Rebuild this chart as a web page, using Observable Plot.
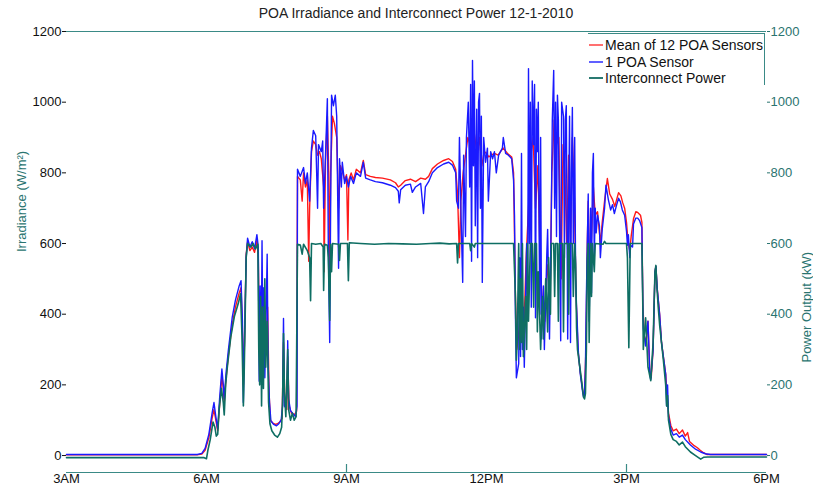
<!DOCTYPE html>
<html>
<head>
<meta charset="utf-8">
<script src="https://cdn.jsdelivr.net/npm/d3@7"></script>
<script src="https://cdn.jsdelivr.net/npm/@observablehq/plot@0.6"></script>
<style>
  body { margin: 0; background: #fff; font-family: "Liberation Sans", Arial, sans-serif; }
  #wrap { position: relative; width: 813px; height: 485px; }
  #title { height: 24px; line-height: 26px; font-size: 14px; color: #222; text-align: center; padding-left: 19px; box-sizing: border-box; }
  #legend { position: absolute; left: 588px; top: 33px; width: 177px; height: 52px; border-top: 1px solid #3a8a86; border-right: 1px solid #3a8a86; box-sizing: border-box; }
  .item { position: absolute; left: 1px; height: 16px; font-size: 14px; line-height: 16px; color: #111; white-space: nowrap; }
  .sw { display: inline-block; width: 14px; height: 0; border-top: 2px solid; vertical-align: middle; margin-right: 2px; position: relative; top: -1px; }
</style>
</head>
<body>
<div id="wrap">
  <div id="title">POA Irradiance and Interconnect Power 12-1-2010</div>
  <div id="chart"></div>
  <div id="legend"></div>
</div>
<script>
// ---- Data (hour of day, value) ----
const seriesNames = ["Mean of 12 POA Sensors", "1 POA Sensor", "Interconnect Power"];
const seriesColors = ["#ff1a1a", "#1a1aff", "#0e6e63"];

const meanPOA = [
[3.00,2],[5.80,2],[5.90,4],[5.97,15],[6.05,50],[6.12,105],[6.16,130],[6.20,100],[6.24,70],[6.28,140],[6.33,225],[6.36,190],[6.38,150],[6.42,220],[6.47,285],[6.55,370],[6.62,420],[6.70,460],[6.74,475],[6.77,360],[6.79,200],[6.81,290],[6.85,570],[6.88,605],[6.93,580],[6.98,590],[7.03,575],[7.08,610],[7.11,560],[7.14,300],[7.17,420],[7.20,260],[7.23,400],[7.27,300],[7.31,420],[7.34,180],[7.37,100],[7.42,92],[7.48,88],[7.52,90],[7.57,95],[7.62,105],[7.65,320],[7.68,150],[7.72,130],[7.74,280],[7.77,140],[7.82,120],[7.88,115],[7.93,125],[7.95,790],
[8.01,780],[8.05,720],[8.08,800],[8.12,760],[8.16,780],[8.19,550],[8.21,700],[8.25,860],[8.29,890],[8.34,880],[8.38,850],[8.42,860],[8.46,840],[8.51,760],[8.52,520],[8.55,830],[8.59,960],[8.62,800],[8.64,520],[8.66,800],[8.70,960],[8.74,940],[8.79,900],[8.83,700],[8.87,820],[8.92,800],[8.96,780],[9.00,795],[9.03,610],[9.05,780],[9.10,800],[9.15,780],[9.21,810],[9.30,800],[9.36,835],[9.41,795],[9.51,790],[9.62,787],[9.77,785],[9.94,780],[10.05,772],[10.11,760],[10.16,765],[10.26,778],[10.37,782],[10.48,775],[10.59,785],[10.69,782],[10.76,790],[10.84,812],[10.95,825],[11.08,835],[11.19,840],[11.27,832],[11.34,810],[11.38,740],[11.42,560],[11.45,720],[11.50,800],[11.55,850],[11.60,900],[11.65,880],[11.70,950],[11.75,900],[11.80,850],[11.85,900],[11.90,820],[11.95,860],[12.00,855],[12.05,845],[12.10,850],[12.17,855],[12.25,850],[12.30,860],[12.36,870],[12.45,855],[12.54,845],[12.58,800],[12.62,450],[12.65,300],[12.68,330],[12.72,400],[12.76,480],[12.80,350],[12.85,560],[12.90,700],[12.95,850],[13.00,900],[13.05,700],[13.10,820],[13.15,550],[13.20,420],[13.25,380],[13.30,540],[13.33,500],[13.36,400],[13.40,800],[13.45,950],[13.50,880],[13.55,900],[13.60,500],[13.64,880],[13.68,800],[13.72,600],[13.76,850],[13.80,600],[13.84,900],[13.88,750],[13.92,450],[13.96,300],[14.01,235],[14.06,185],[14.08,170],[14.10,172],[14.13,300],[14.16,600],[14.18,720],[14.21,500],[14.25,620],[14.29,760],[14.33,680],[14.38,690],[14.44,600],[14.48,660],[14.53,720],[14.59,784],[14.64,740],[14.70,725],[14.75,705],[14.80,730],[14.83,744],[14.88,735],[14.92,715],[14.96,700],[15.00,660],[15.03,610],[15.07,580],[15.10,620],[15.15,670],[15.20,690],[15.24,688],[15.30,680],[15.33,660],[15.35,430],[15.38,340],[15.42,320],[15.46,380],[15.50,235],[15.53,220],[15.57,300],[15.61,520],[15.63,535],[15.66,470],[15.71,400],[15.75,320],[15.79,280],[15.84,230],[15.87,170],[15.90,120],[15.95,85],[16.00,70],[16.07,75],[16.13,62],[16.20,72],[16.26,55],[16.31,65],[16.35,40],[16.45,28],[16.52,22],[16.58,15],[16.65,8],[16.72,3],[18.00,3]
];

const onePOA = [
[3.00,3],[5.80,3],[5.90,6],[5.97,20],[6.05,60],[6.12,120],[6.16,150],[6.20,110],[6.24,75],[6.28,160],[6.33,245],[6.36,200],[6.38,160],[6.42,235],[6.47,300],[6.55,390],[6.62,440],[6.70,480],[6.74,495],[6.77,380],[6.79,150],[6.81,300],[6.85,560],[6.88,615],[6.93,590],[6.98,605],[7.03,585],[7.08,625],[7.11,590],[7.13,210],[7.15,480],[7.17,250],[7.19,608],[7.21,300],[7.23,475],[7.25,220],[7.28,420],[7.30,570],[7.32,260],[7.35,150],[7.38,98],[7.44,88],[7.50,84],[7.55,90],[7.60,100],[7.63,140],[7.65,388],[7.67,140],[7.70,135],[7.73,200],[7.74,325],[7.76,160],[7.80,127],[7.85,119],[7.91,110],[7.94,140],[7.95,810],
[8.01,790],[8.08,815],[8.12,770],[8.16,800],[8.21,720],[8.25,870],[8.29,920],[8.34,905],[8.38,700],[8.40,880],[8.46,860],[8.49,890],[8.51,700],[8.55,850],[8.59,1010],[8.61,600],[8.64,320],[8.66,700],[8.68,1020],[8.72,990],[8.76,1020],[8.79,960],[8.83,530],[8.85,840],[8.89,760],[8.91,830],[8.96,770],[9.00,790],[9.04,760],[9.09,790],[9.15,770],[9.21,800],[9.30,790],[9.36,830],[9.41,785],[9.51,780],[9.62,775],[9.77,772],[9.94,765],[10.05,758],[10.11,748],[10.13,715],[10.16,752],[10.26,765],[10.37,768],[10.41,745],[10.48,760],[10.59,770],[10.65,685],[10.69,760],[10.76,775],[10.84,800],[10.95,815],[11.08,825],[11.19,830],[11.27,822],[11.34,800],[11.36,720],[11.40,700],[11.42,900],[11.44,780],[11.46,650],[11.49,490],[11.51,850],[11.55,620],[11.57,900],[11.61,1000],[11.64,760],[11.66,1050],[11.68,550],[11.70,1118],[11.72,820],[11.74,1060],[11.76,650],[11.79,980],[11.81,560],[11.83,1000],[11.85,1025],[11.87,700],[11.89,960],[11.91,490],[11.94,900],[11.98,830],[12.02,870],[12.04,720],[12.09,860],[12.13,840],[12.17,860],[12.21,800],[12.26,850],[12.30,860],[12.34,870],[12.36,900],[12.41,855],[12.47,850],[12.54,840],[12.58,780],[12.60,680],[12.62,400],[12.64,220],[12.69,260],[12.71,560],[12.73,280],[12.75,855],[12.77,300],[12.79,420],[12.81,250],[12.86,600],[12.88,390],[12.90,1095],[12.92,600],[12.94,1000],[12.96,420],[12.98,1060],[13.01,880],[13.03,1050],[13.05,390],[13.07,980],[13.09,860],[13.11,1000],[13.14,400],[13.16,900],[13.18,330],[13.22,480],[13.24,300],[13.29,560],[13.31,640],[13.35,330],[13.39,700],[13.41,950],[13.44,1090],[13.46,700],[13.48,1000],[13.50,620],[13.52,1020],[13.54,950],[13.59,325],[13.61,1000],[13.65,960],[13.67,560],[13.69,950],[13.71,990],[13.74,330],[13.76,700],[13.78,960],[13.80,320],[13.82,800],[13.84,985],[13.86,600],[13.89,900],[13.91,500],[13.93,420],[13.97,290],[14.01,230],[14.06,180],[14.08,165],[14.10,170],[14.12,250],[14.14,450],[14.16,600],[14.18,740],[14.20,380],[14.23,700],[14.25,460],[14.27,800],[14.29,855],[14.31,560],[14.33,700],[14.35,630],[14.38,680],[14.42,650],[14.44,560],[14.48,640],[14.53,700],[14.56,765],[14.61,725],[14.66,695],[14.70,710],[14.74,685],[14.78,705],[14.83,728],[14.87,718],[14.91,695],[14.96,680],[15.00,635],[15.02,595],[15.04,625],[15.07,560],[15.09,595],[15.13,590],[15.15,655],[15.20,672],[15.24,672],[15.28,665],[15.33,645],[15.35,420],[15.36,360],[15.41,310],[15.46,380],[15.50,230],[15.52,215],[15.57,300],[15.61,520],[15.63,535],[15.66,470],[15.71,400],[15.75,320],[15.79,280],[15.84,230],[15.86,140],[15.88,200],[15.90,110],[15.95,75],[16.00,58],[16.07,62],[16.13,52],[16.20,58],[16.26,45],[16.37,30],[16.48,18],[16.59,10],[16.69,5],[16.80,3],[18.00,3]
];

const interconnectPower = [
[3.00,-6],[5.95,-6],[6.00,-9],[6.03,15],[6.08,45],[6.14,95],[6.18,80],[6.21,55],[6.24,60],[6.27,130],[6.32,190],[6.36,150],[6.38,115],[6.41,200],[6.45,255],[6.52,335],[6.60,395],[6.68,430],[6.73,458],[6.76,340],[6.79,140],[6.81,250],[6.85,560],[6.88,600],[6.95,590],[7.00,600],[7.05,585],[7.10,598],[7.12,300],[7.14,200],[7.16,450],[7.18,140],[7.20,420],[7.22,190],[7.25,500],[7.27,250],[7.30,380],[7.33,150],[7.36,90],[7.40,70],[7.46,58],[7.52,52],[7.57,62],[7.61,80],[7.63,150],[7.65,345],[7.67,180],[7.70,110],[7.72,200],[7.74,300],[7.76,130],[7.80,100],[7.84,120],[7.88,100],[7.92,110],[7.95,598],
[8.01,596],[8.05,570],[8.08,598],[8.16,580],[8.21,560],[8.23,438],[8.25,600],[8.34,598],[8.45,600],[8.50,590],[8.51,467],[8.53,598],[8.59,595],[8.61,560],[8.64,382],[8.66,598],[8.68,520],[8.70,600],[8.83,598],[8.85,552],[8.87,600],[9.02,600],[9.04,495],[9.06,602],[9.30,600],[9.60,598],[9.90,600],[10.20,599],[10.50,598],[10.80,600],[11.00,601],[11.20,599],[11.36,600],[11.38,545],[11.40,600],[11.64,600],[11.66,580],[11.68,600],[11.74,590],[11.76,600],[12.00,600],[12.30,600],[12.58,600],[12.62,450],[12.64,270],[12.66,330],[12.69,600],[12.71,300],[12.73,500],[12.75,320],[12.77,600],[12.79,280],[12.84,450],[12.86,300],[12.88,600],[12.90,380],[12.94,600],[12.98,600],[13.01,420],[13.03,600],[13.07,600],[13.09,350],[13.11,520],[13.16,300],[13.20,450],[13.22,330],[13.27,500],[13.31,350],[13.33,560],[13.37,400],[13.39,600],[13.44,600],[13.46,450],[13.48,600],[13.52,600],[13.54,380],[13.56,600],[13.63,600],[13.65,350],[13.67,600],[13.74,600],[13.76,400],[13.78,600],[13.84,600],[13.86,450],[13.89,600],[13.91,540],[13.93,360],[13.95,300],[14.00,250],[14.04,210],[14.08,165],[14.10,160],[14.12,175],[14.14,300],[14.16,550],[14.18,600],[14.20,320],[14.23,600],[14.25,450],[14.27,600],[14.31,520],[14.33,600],[14.50,598],[14.53,606],[14.56,600],[14.80,600],[15.00,600],[15.02,560],[15.05,305],[15.08,600],[15.33,600],[15.35,420],[15.36,300],[15.41,390],[15.46,250],[15.50,225],[15.52,212],[15.57,320],[15.61,520],[15.63,538],[15.65,480],[15.68,420],[15.71,370],[15.75,320],[15.79,270],[15.84,200],[15.86,140],[15.88,170],[15.90,100],[15.95,60],[16.00,45],[16.07,40],[16.13,30],[16.20,38],[16.26,25],[16.37,10],[16.48,0],[16.59,-10],[16.65,-5],[16.74,-4],[18.00,-4]
];

const xTicks = [3, 6, 9, 12, 15, 18];
const xTickLabels = ["3AM", "6AM", "9AM", "12PM", "3PM", "6PM"];
const xMarkedTicks = [9, 15];
const yTicks = [0, 200, 400, 600, 800, 1000, 1200];
const yLimits = [-48, 1200];

// ---- Layout ----
const W = 813, H = 461;
const mTop = 7, mBottom = 13, mLeft = 66, mRight = 47;
const frameH = H - mTop - mBottom;
const axisTeal = "#3a8a86";
const labelTeal = "#2a7470";

const chart = Plot.plot({
  width: W, height: H,
  marginTop: mTop, marginBottom: mBottom, marginLeft: mLeft, marginRight: mRight,
  style: { fontFamily: "'Liberation Sans', Arial, sans-serif", fontSize: "13px", background: "white", overflow: "visible" },
  x: { domain: [3, 18] },
  y: { domain: yLimits },
  marks: [
    Plot.ruleY([yLimits[1]], { stroke: axisTeal, strokeWidth: 1.2 }),
    Plot.ruleY([yLimits[0]], { stroke: axisTeal, strokeWidth: 1.2 }),
    Plot.ruleX(xMarkedTicks, { stroke: axisTeal, strokeWidth: 1.2, insetTop: frameH - 8 }),
    Plot.axisX({ ticks: xTicks, tickFormat: d => xTickLabels[xTicks.indexOf(d)], tickSize: 0, tickPadding: 1, fontSize: 13, color: "#111", label: null }),
    Plot.axisY({ anchor: "left", ticks: yTicks, tickFormat: d => String(d), tickSize: 4, tickPadding: 1, fontSize: 13, color: "#111", label: null }),
    Plot.axisY({ anchor: "right", ticks: yTicks, tickFormat: d => String(d), tickSize: 3, tickPadding: 1, fontSize: 13, color: labelTeal, label: null }),
    Plot.text(["Irradiance (W/m²)"], { frameAnchor: "left", dx: -45, rotate: -90, fill: labelTeal, fontSize: 13 }),
    Plot.text(["Power Output (kW)"], { frameAnchor: "right", dx: 40, rotate: -90, fill: labelTeal, fontSize: 13 }),
    Plot.line(meanPOA, { x: d => d[0], y: d => d[1], stroke: seriesColors[0], strokeWidth: 1.4 }),
    Plot.line(onePOA, { x: d => d[0], y: d => d[1], stroke: seriesColors[1], strokeWidth: 1.4 }),
    Plot.line(interconnectPower, { x: d => d[0], y: d => d[1], stroke: seriesColors[2], strokeWidth: 1.6 })
  ]
});
document.getElementById("chart").appendChild(chart);

// ---- Legend ----
const legend = document.getElementById("legend");
seriesNames.forEach((name, i) => {
  const item = document.createElement("div");
  item.className = "item";
  item.style.top = (3 + i * 16.5) + "px";
  const sw = document.createElement("span");
  sw.className = "sw";
  sw.style.borderTopColor = i === 0 ? "#ff7070" : (i === 1 ? "#6060ff" : "#2a7a72");
  item.appendChild(sw);
  item.appendChild(document.createTextNode(name));
  legend.appendChild(item);
});
</script>
</body>
</html>
